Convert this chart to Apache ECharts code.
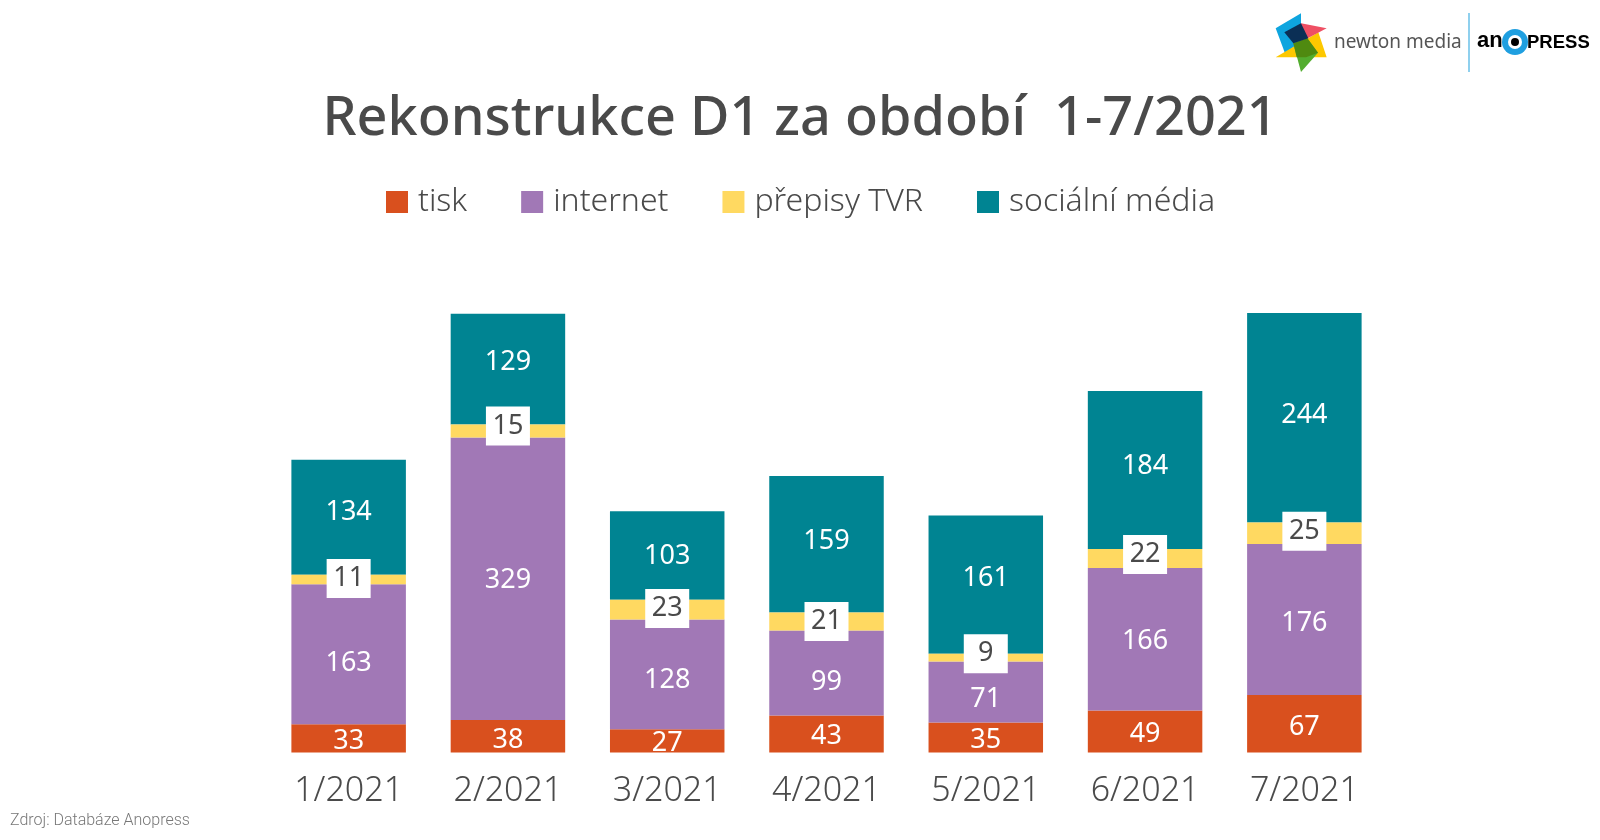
<!DOCTYPE html>
<html>
<head>
<meta charset="utf-8">
<style>html,body{margin:0;background:#fff}#main{width:1600px;height:840px}</style>
<script src="https://cdn.jsdelivr.net/npm/echarts@6/dist/echarts.min.js"></script>
</head>
<body>
<div id="main"></div>
<script>
var months = ['1/2021','2/2021','3/2021','4/2021','5/2021','6/2021','7/2021'];
var tisk = [33,38,27,43,35,49,67];
var internet = [163,329,128,99,71,166,176];
var prepisy = [11,15,23,21,9,22,25];
var socialni = [134,129,103,159,161,184,244];

// posun popisků oproti středu segmentu (px), v předloze nejsou přesně na středu
var tiskNudge = [3,4,2,2,3,3,4];
var internetNudge = [9,2,6,9,7,2,4];
var prepisyNudge = [-1,-5,-1,0,-4,-4,-2];
var socialniNudge = [-5,-7,1,-3,-6,-4,-2];

var textFont = '"Noto Sans"';
var myChart = echarts.init(document.getElementById('main'));

function makeSeries(name, data, nudge, color, boxed){
	var label = {
		show: true, position: 'inside',
		fontFamily: textFont, fontSize: 27,
		color: '#fff'
	};
	if(boxed){
		// bilý rámeček kolem malých hodnot
		label.color = '#4a4a4a';
		label.backgroundColor = '#fff';
		label.width = 44;
		label.height = 33;
		label.lineHeight = 33;
		label.padding = [6,0,0,0];
		label.align = 'center';
	}
	return {
		name: name, type: 'bar', stack: 'celkem', barWidth: 114.5,
		data: data.map(function(v, i){
			return {value: v, label: {offset: [0, nudge[i]]}};
		}),
		itemStyle: {color: color}, label: label,
		z: boxed ? 5 : 2
	};
}

function poly(points, fill){
	return {
		type: 'polygon',
		shape: {points: points.map(function(p){ return [1230 + p[0]/3, p[1]/3]; })},
		style: {fill: fill}
	};
}

var option = {
	animation: false,
	title: {
		text: 'Rekonstrukce D1 za období  1-7/2021',
		left: 'center', top: 88,
		textStyle: {fontFamily: textFont, fontSize: 54, fontWeight: 500, color: '#4a4a4a'}
	},
	legend: {
		left: 381, top: 181, itemWidth: 22, itemHeight: 22, itemGap: 54,
		icon: 'rect',
		textStyle: {fontFamily: textFont, fontSize: 32, fontWeight: 300, color: '#4a4a4a', padding: [8,0,0,5]},
		data: ['tisk','internet','přepisy TVR','sociální média']
	},
	grid: {left: 269, width: 1115, top: 313, bottom: 87.5},
	xAxis: {
		type: 'category', data: months,
		axisLine: {show: false}, axisTick: {show: false},
		axisLabel: {fontFamily: textFont, fontSize: 34, fontWeight: 300, color: '#4a4a4a', margin: 22}
	},
	yAxis: {type: 'value', min: 0, max: 512, show: false},
	series: [
		makeSeries('tisk', tisk, tiskNudge, '#d9501e'),
		makeSeries('internet', internet, internetNudge, '#a178b6'),
		makeSeries('přepisy TVR', prepisy, prepisyNudge, '#ffd961', true),
		makeSeries('sociální média', socialni, socialniNudge, '#008492')
	],
	graphic: [
		{type: 'text', left: 10, top: 813, style: {text: 'Zdroj: Databáze Anopress', fontFamily: 'Roboto', fontWeight: 300, fontSize: 16, fill: '#777'}},
		poly([[137,85],[213,40],[213,125],[165,160]], '#0ea5df'),
		poly([[137,172],[265,97],[290,172]], '#fdc800'),
		poly([[213,70],[290,85],[213,125]], '#ef5064'),
		poly([[190,130],[232,115],[264,158],[213,216]], '#53ad2f'),
		poly([[232,115],[264,158],[228,172],[200,172],[190,130]], '#4f8a10'),
		poly([[163,97],[213,70],[235,115],[190,130]], '#0b2f55'),
		{type: 'text', left: 1334, top: 33, style: {text: 'newton media', fontFamily: textFont, fontSize: 19, fill: '#555'}},
		{type: 'rect', shape: {x: 1468, y: 13, width: 2, height: 59}, style: {fill: '#8fd0ee'}},
		{type: 'text', left: 1477, top: 30, style: {text: 'an', fontFamily: 'Liberation Sans', fontWeight: 900, fontSize: 22, fill: '#000'}},
		{type: 'circle', shape: {cx: 1515, cy: 42, r: 13}, style: {fill: '#1f9fe0'}},
		{type: 'circle', shape: {cx: 1515, cy: 42, r: 7}, style: {fill: '#fff'}},
		{type: 'circle', shape: {cx: 1515, cy: 42, r: 4}, style: {fill: '#000'}},
		{type: 'text', left: 1527, top: 33, style: {text: 'PRESS', fontFamily: 'Liberation Sans', fontWeight: 900, fontSize: 18.5, fill: '#000'}}
	]
};
myChart.setOption(option);
</script>
</body>
</html>
